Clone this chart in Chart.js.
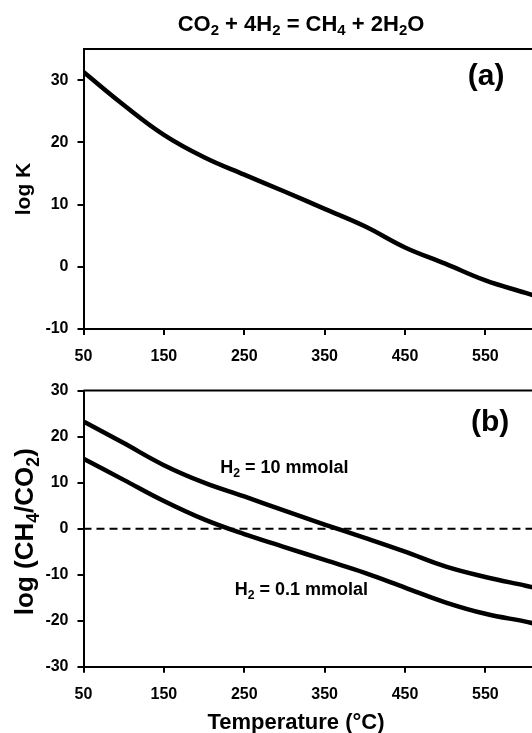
<!DOCTYPE html>
<html>
<head>
<meta charset="utf-8">
<script src="https://cdn.jsdelivr.net/npm/chart.js@4.4.0/dist/chart.umd.min.js"></script>
<style>
html, body { margin: 0; padding: 0; background: #fff; overflow: hidden; }
#wrap { position: relative; width: 532px; height: 733px; }
canvas { position: absolute; left: 0; }
#topChart { top: 0; }
#botChart { top: 372px; }
</style>
</head>
<body>
<div id="wrap">
  <canvas id="topChart" width="532" height="372"></canvas>
  <canvas id="botChart" width="532" height="361"></canvas>
</div>
<script>
// temperature (°C) and values
const temps = [50, 100, 150, 200, 250, 300, 350, 400, 450, 500, 550, 600, 610];
const logK = [31.3, 26.0, 21.2, 17.6, 14.8, 12.1, 9.3, 6.5, 3.1, 0.5, -2.2, -4.2, -4.6];
const h2High = [23.3, 18.6, 13.8, 10.0, 7.0, 3.9, 0.9, -2.0, -5.0, -8.2, -10.5, -12.4, -12.8];
const h2Low = [15.2, 10.6, 6.0, 2.0, -1.2, -4.0, -6.8, -9.6, -12.8, -16.0, -18.5, -20.2, -20.6];
const zeroTemps = [50, 610];
const zeroVals = [0, 0];

const tempTicks = [50, 150, 250, 350, 450, 550];
const logKTicks = [-10, 0, 10, 20, 30];
const ratioTicks = [-30, -20, -10, 0, 10, 20, 30];

const FONT = "'Liberation Sans', Arial, sans-serif";

function pts(xs, ys) { return xs.map((x, i) => ({x: x, y: ys[i]})); }

// draws text where "_4" means subscript 4, centred on (x, y)
function richText(ctx, str, x, y, size, rot) {
  let parts = str.split(/(_\d)/).filter(s => s);
  let subSize = size * 0.68, w = 0;
  ctx.save();
  parts.forEach(p => {
    let sub = p[0] == '_';
    ctx.font = 'bold ' + (sub ? subSize : size) + 'px ' + FONT;
    w += ctx.measureText(sub ? p.slice(1) : p).width;
  });
  ctx.translate(x, y);
  ctx.rotate(rot || 0);
  ctx.fillStyle = '#000';
  ctx.textBaseline = 'alphabetic';
  ctx.textAlign = 'left';
  let cx = -w / 2, base = size * 0.36;
  parts.forEach(p => {
    let sub = p[0] == '_';
    let t = sub ? p.slice(1) : p;
    ctx.font = 'bold ' + (sub ? subSize : size) + 'px ' + FONT;
    ctx.fillText(t, cx, sub ? base + size * 0.2 : base);
    cx += ctx.measureText(t).width;
  });
  ctx.restore();
}

function topLine(chart) {
  let a = chart.chartArea, ctx = chart.ctx;
  ctx.save();
  ctx.strokeStyle = '#000';
  ctx.lineWidth = 2;
  ctx.beginPath();
  ctx.moveTo(a.left, a.top);
  ctx.lineTo(a.right, a.top);
  ctx.stroke();
  ctx.restore();
}

function xAxis(h) {
  return {
    type: 'linear', min: 50, max: 608,
    afterBuildTicks: s => { s.ticks = tempTicks.map(v => ({value: v})); },
    ticks: { color: '#000', font: {family: FONT, size: 16, weight: 'bold'}, padding: 12, maxRotation: 0, autoSkip: false },
    grid: { drawOnChartArea: false, tickLength: 6, color: '#000', lineWidth: 2 },
    border: { color: '#000', width: 2 },
    afterFit: s => { s.height = h; }
  };
}

function yAxis(min, max, ticks, title) {
  return {
    type: 'linear', min: min, max: max,
    afterBuildTicks: s => { s.ticks = ticks.map(v => ({value: v})); },
    ticks: { color: '#000', font: {family: FONT, size: 16, weight: 'bold'}, padding: 9 },
    grid: { drawOnChartArea: false, tickLength: 6, color: '#000', lineWidth: 2 },
    border: { color: '#000', width: 2 },
    title: title ? { display: true, text: title, color: '#000', font: {family: FONT, size: 21, weight: 'bold'}, padding: {top: 12, bottom: 0} } : {display: false},
    afterFit: s => { s.width = 83.5; }
  };
}

const lineStyle = { borderColor: '#000', borderWidth: 4.5, pointRadius: 0, fill: false, tension: 0.4 };

const decorTop = {
  id: 'decorTop',
  afterDraw(chart) {
    topLine(chart);
    let x = chart.scales.x, y = chart.scales.y;
    richText(chart.ctx, 'CO_2 + 4H_2 = CH_4 + 2H_2O', 301, 23, 22, 0);
    richText(chart.ctx, '(a)', x.getPixelForValue(551), y.getPixelForValue(31), 30, 0);
  }
};

const decorBot = {
  id: 'decorBot',
  afterDraw(chart) {
    topLine(chart);
    let x = chart.scales.x, y = chart.scales.y, a = chart.chartArea;
    richText(chart.ctx, '(b)', x.getPixelForValue(556), y.getPixelForValue(23.6), 30, 0);
    richText(chart.ctx, 'H_2 = 10 mmolal', x.getPixelForValue(300), y.getPixelForValue(13.4), 18, 0);
    richText(chart.ctx, 'H_2 = 0.1 mmolal', x.getPixelForValue(321), y.getPixelForValue(-13.0), 18, 0);
    richText(chart.ctx, 'log (CH_4/CO_2)', 24, (a.top + a.bottom) / 2 + 3, 26, -Math.PI / 2);
    richText(chart.ctx, 'Temperature (°C)', 296, 349, 22, 0);
  }
};

const topChart = new Chart('topChart', {
  type: 'line',
  data: { datasets: [ Object.assign({ data: pts(temps, logK) }, lineStyle) ] },
  options: {
    responsive: false, animation: false,
    layout: { padding: {top: 49, right: 0, bottom: 0, left: 0} },
    scales: { x: xAxis(43), y: yAxis(-10, 35, logKTicks, 'log K') },
    plugins: { legend: {display: false}, tooltip: {enabled: false} }
  },
  plugins: [decorTop]
});

const botChart = new Chart('botChart', {
  type: 'line',
  data: {
    datasets: [
      Object.assign({ data: pts(temps, h2High) }, lineStyle),
      Object.assign({ data: pts(temps, h2Low) }, lineStyle),
      { data: pts(zeroTemps, zeroVals), borderColor: '#000', borderWidth: 2, borderDash: [8, 5], pointRadius: 0, fill: false }
    ]
  },
  options: {
    responsive: false, animation: false,
    layout: { padding: {top: 12.3, right: 0, bottom: 0, left: 0} },
    scales: { x: xAxis(66.3), y: yAxis(-30, 30, ratioTicks, null) },
    plugins: { legend: {display: false}, tooltip: {enabled: false} }
  },
  plugins: [decorBot]
});
</script>
</body>
</html>
